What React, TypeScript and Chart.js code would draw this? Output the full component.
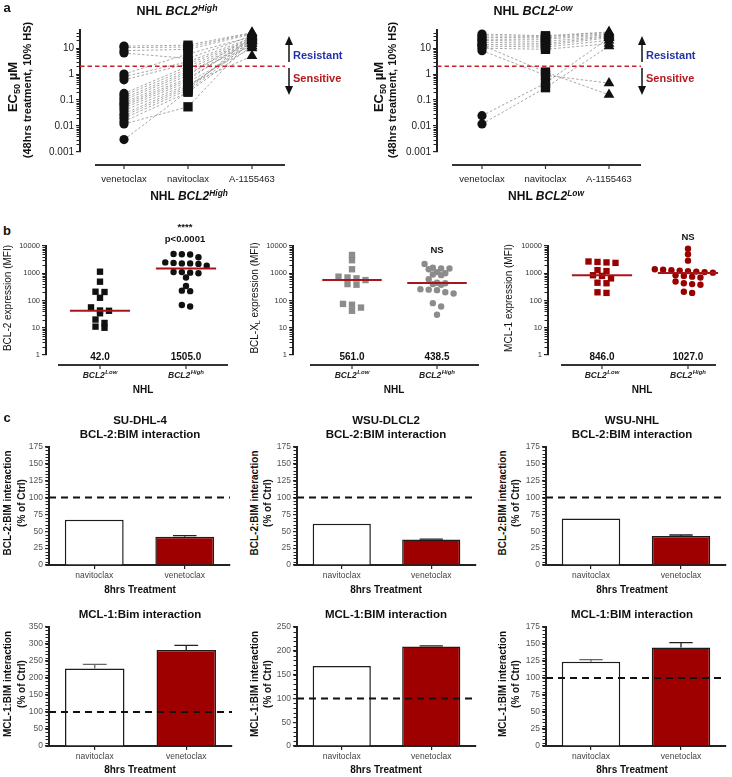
import React, { useEffect, useRef } from 'react';
import { Chart, registerables } from 'chart.js';

Chart.register(...registerables);

const FONT = '"Liberation Sans", Arial, Helvetica, sans-serif';
Chart.defaults.font.family = FONT;

// ---------------- Panel a : EC50 (µM), 48 h treatment, 10% HS ----------------
const drugs = ['venetoclax', 'navitoclax', 'A-1155463'];
const ec50Ticks = [0.001, 0.01, 0.1, 1, 10];
const ec50Range = [0.001, 50];
const ec50Threshold = 2;

const highVenetoclax = [12, 10.5, 8, 6.5, 1.0, 0.8, 0.6, 0.18, 0.15, 0.12, 0.1, 0.08, 0.07, 0.06, 0.05, 0.04, 0.03, 0.025, 0.02, 0.015, 0.012, 0.003];
const highNavitoclax = [13, 11, 9, 4, 6, 3, 2.5, 2, 1.6, 1.3, 1.1, 0.9, 0.7, 0.6, 0.5, 0.4, 0.35, 0.3, 0.25, 0.2, 0.055, 0.22];
const highA1155463 = [40, 38, 35, 30, 28, 25, 22, 20, 18, 15, 12, 30, 20, 25, 10, 5, 15, 20, 28, 12, 22, 18];

const lowVenetoclax = [35, 30, 26, 22, 20, 17, 14, 12, 10, 8, 13, 0.025, 0.012];
const lowNavitoclax = [30, 28, 25, 22, 18, 15, 13, 11, 9, 0.9, 1.2, 0.45, 0.3];
const lowA1155463 = [42, 40, 36, 33, 30, 28, 25, 20, 15, 0.45, 0.16, 25, 12];

// ---------------- Panel b : expression (MFI) ----------------
const nhlTickText = ['BCL2', 'BCL2'];
const nhlTickSup = ['Low', 'High'];
const mfiTicks = [1, 10, 100, 1000, 10000];
const mfiRange = [1, 10000];

const bcl2Low = [1140, 490, 210, 205, 126, 56, 43, 42, 34, 20, 15, 11, 10];
const bcl2High = [5100, 5000, 4900, 3850, 2500, 2400, 2300, 2300, 2200, 1900, 1110, 1100, 1050, 1000, 700, 340, 230, 220, 68, 60];
const bcl2Medians = [42.0, 1505.0];

const bclxlLow = [4700, 3000, 1400, 750, 700, 650, 561, 400, 380, 75, 70, 55, 42];
const bclxlHigh = [2200, 1600, 1500, 1500, 1400, 1100, 1000, 900, 850, 600, 450, 427, 400, 380, 260, 250, 240, 200, 180, 80, 60, 30];
const bclxlMedians = [561.0, 438.5];

const mcl1Low = [2700, 2600, 2500, 2400, 1300, 1200, 846, 800, 650, 450, 430, 200, 190];
const mcl1High = [8000, 5000, 2900, 1400, 1350, 1300, 1250, 1200, 1150, 1100, 1054, 1000, 850, 800, 750, 700, 500, 430, 400, 380, 210, 190];
const mcl1Medians = [846.0, 1027.0];

// ---------------- Panel c : BIM interaction (% of Ctrl), 8 h ----------------
const treatments = ['navitoclax', 'venetoclax'];
const controlLevel = 100;
const bcl2BimSUDHL4 = [67, 42];
const bcl2BimSUDHL4Err = [0, 1.5];
const bcl2BimWSUDLCL2 = [61, 38];
const bcl2BimWSUDLCL2Err = [0, 0.5];
const bcl2BimWSUNHL = [69, 43];
const bcl2BimWSUNHLErr = [0, 1.5];
const mcl1BimSUDHL4 = [228, 282];
const mcl1BimSUDHL4Err = [12, 14];
const mcl1BimWSUDLCL2 = [168, 209];
const mcl1BimWSUDLCL2Err = [0, 1.5];
const mcl1BimWSUNHL = [124, 145];
const mcl1BimWSUNHLErr = [3, 7];
const bimAxisMax = [175, 175, 175, 350, 250, 175];
const bimAxisStep = [25, 25, 25, 50, 50, 25];

// ---------------- Layout (pixels) ----------------
type Rect = { x: number; y: number; w: number; h: number };
type Area = { l: number; t: number; r: number; b: number };

const aLayout = [
  { rect: { x: 40, y: 15, w: 255, h: 180 }, area: { l: 80, t: 30, r: 285, b: 152 }, p0: 124, p1: 188, axisStart: 95 },
  { rect: { x: 400, y: 15, w: 250, h: 180 }, area: { l: 437, t: 30, r: 641, b: 152 }, p0: 482, p1: 545.5, axisStart: 452 },
];
const bLayout = [
  { rect: { x: 12, y: 225, w: 225, h: 170 }, area: { l: 46, t: 246, r: 228, b: 355 }, p0: 100, p1: 186, axisStart: 58 },
  { rect: { x: 259, y: 225, w: 228, h: 170 }, area: { l: 293, t: 246, r: 479, b: 355 }, p0: 352, p1: 437, axisStart: 310 },
  { rect: { x: 514, y: 225, w: 212, h: 170 }, area: { l: 548, t: 246, r: 716, b: 355 }, p0: 602, p1: 688, axisStart: 561 },
];
const cLayout = [
  { rect: { x: 15, y: 437, w: 222, h: 155 }, area: { l: 49, t: 447, r: 230, b: 565 } },
  { rect: { x: 262, y: 437, w: 222, h: 155 }, area: { l: 297, t: 447, r: 476, b: 565 } },
  { rect: { x: 511, y: 437, w: 221, h: 155 }, area: { l: 546, t: 447, r: 726, b: 565 } },
  { rect: { x: 15, y: 617, w: 225, h: 155 }, area: { l: 49, t: 627, r: 232, b: 746 } },
  { rect: { x: 262, y: 617, w: 222, h: 155 }, area: { l: 297, t: 627, r: 476, b: 746 } },
  { rect: { x: 511, y: 617, w: 221, h: 155 }, area: { l: 546, t: 627, r: 726, b: 746 } },
];

// ---------------- Helpers ----------------
// Scatter-dot layout: points close in value share a row and are centred on the category.
function dotRows(values: number[], pxPerDecade: number, pxPerUnit: number, d: number): number[] {
  const order = values.map((_, i) => i).sort((a, b) => values[b] - values[a]);
  const out = new Array(values.length).fill(0);
  let row: number[] = [];
  let rowY: number | null = null;
  const flush = () => {
    row.forEach((idx, j) => {
      out[idx] = ((j - (row.length - 1) / 2) * d) / pxPerUnit;
    });
    row = [];
  };
  for (const i of order) {
    const yy = Math.log10(values[i]) * pxPerDecade;
    if (rowY === null || rowY - yy > 0.55 * d) {
      flush();
      rowY = yy;
    }
    row.push(i);
  }
  flush();
  return out;
}

function drawLabel(ctx: CanvasRenderingContext2D, text: string, sup: string | undefined, cx: number, cy: number, font: string, supFont: string) {
  ctx.textBaseline = 'middle';
  ctx.font = font;
  const wb = ctx.measureText(text).width;
  let ws = 0;
  if (sup) {
    ctx.font = supFont;
    ws = ctx.measureText(sup).width + 0.5;
  }
  const sx = cx - (wb + ws) / 2;
  ctx.textAlign = 'left';
  ctx.font = font;
  ctx.fillText(text, sx, cy);
  if (sup) {
    ctx.font = supFont;
    ctx.fillText(sup, sx + wb + 0.5, cy - 3.5);
  }
}

const decorPlugin = {
  id: 'decor',
  afterDatasetsDraw(chart: any, _a: any, o: any) {
    const { ctx, chartArea: ca } = chart;
    const y = chart.scales.y;
    ctx.save();
    if (o.errors) {
      const meta = chart.getDatasetMeta(0);
      meta.data.forEach((bar: any, i: number) => {
        const v = o.errors.values[i];
        const e = o.errors.errors[i];
        if (!e) return;
        const yt = y.getPixelForValue(v + e);
        const yb = y.getPixelForValue(v);
        const hw = bar.width * 0.2;
        ctx.strokeStyle = i === 0 ? '#666' : '#222';
        ctx.lineWidth = 1.3;
        ctx.beginPath();
        ctx.moveTo(bar.x, yb);
        ctx.lineTo(bar.x, yt);
        ctx.moveTo(bar.x - hw, yt);
        ctx.lineTo(bar.x + hw, yt);
        ctx.stroke();
      });
    }
    if (o.reference != null) {
      const yr = y.getPixelForValue(o.reference);
      ctx.strokeStyle = '#111';
      ctx.lineWidth = 2;
      ctx.setLineDash([7, 5]);
      ctx.beginPath();
      ctx.moveTo(ca.left, yr);
      ctx.lineTo(ca.right, yr);
      ctx.stroke();
      ctx.setLineDash([]);
    }
    ctx.restore();
  },
  afterDraw(chart: any, _a: any, o: any) {
    const { ctx, chartArea: ca } = chart;
    const x = chart.scales.x;
    const y = chart.scales.y;
    ctx.save();
    const minor: number[] = [];
    if (o.logMinor) {
      for (let d = Math.floor(Math.log10(y.min)); d < Math.ceil(Math.log10(y.max)); d++) {
        for (let m = 2; m <= 9; m++) {
          const v = m * Math.pow(10, d);
          if (v > y.min && v < y.max) minor.push(v);
        }
      }
    }
    if (o.linMinor) {
      for (let v = y.min; v <= y.max + 1e-9; v += o.linMinor) minor.push(v);
    }
    ctx.strokeStyle = '#222';
    ctx.lineWidth = 1;
    ctx.beginPath();
    minor.forEach((v) => {
      const py = Math.round(y.getPixelForValue(v)) + 0.5;
      ctx.moveTo(ca.left - 3.5, py);
      ctx.lineTo(ca.left, py);
    });
    ctx.stroke();

    if (o.axis) {
      const A = o.axis;
      const ly = ca.bottom + A.gap;
      const x0 = x.getPixelForValue(A.start);
      ctx.strokeStyle = '#333';
      ctx.lineWidth = 2;
      ctx.beginPath();
      ctx.moveTo(x0, ly);
      ctx.lineTo(ca.right, ly);
      ctx.stroke();
      ctx.fillStyle = A.color;
      A.text.forEach((t: string, i: number) => {
        const px = x.getPixelForValue(i);
        ctx.lineWidth = 1.2;
        ctx.beginPath();
        ctx.moveTo(px, ly);
        ctx.lineTo(px, ly + 4);
        ctx.stroke();
        drawLabel(ctx, t, A.sup ? A.sup[i] : undefined, px, ly + A.labelGap, A.font, A.supFont || A.font);
      });
    }
    if (o.medians) {
      ctx.font = `bold 10px ${FONT}`;
      ctx.fillStyle = '#111';
      ctx.textAlign = 'center';
      ctx.textBaseline = 'middle';
      o.medians.forEach((m: number, i: number) => {
        ctx.fillText(m.toFixed(1), x.getPixelForValue(i), ca.bottom + 2.5);
      });
    }
    ctx.restore();
  },
};

function baseOptions(rect: Rect, area: Area, xh: number) {
  return {
    responsive: false,
    animation: false,
    events: [],
    layout: {
      autoPadding: false,
      padding: { left: 0, top: area.t - rect.y, right: rect.x + rect.w - area.r, bottom: rect.y + rect.h - area.b - xh },
    },
  };
}

function logY(rect: Rect, area: Area, range: number[], ticks: number[], size: number, color: string) {
  const yw = area.l - rect.x;
  return {
    type: 'logarithmic',
    min: range[0],
    max: range[1],
    afterFit: (s: any) => {
      s.width = yw;
    },
    afterBuildTicks: (s: any) => {
      s.ticks = ticks.map((v) => ({ value: v }));
    },
    ticks: { callback: (v: any) => String(v), font: { size, family: FONT }, color, padding: 2, autoSkip: false },
    grid: { drawOnChartArea: false, drawTicks: true, tickLength: 4, color: '#222', lineWidth: 1.2 },
    border: { display: true, color: '#222', width: 2 },
  };
}

function catX(area: Area, p0: number, p1: number) {
  const unit = p1 - p0;
  return { type: 'linear', display: false, min: -(p0 - area.l) / unit, max: (area.r - p0) / unit };
}

function ec50Config(L: any, v: number[], n: number[], a: number[]) {
  const unit = L.p1 - L.p0;
  const xs = catX(L.area, L.p0, L.p1);
  const connectors = v.map((_, i) => ({
    data: [{ x: 0, y: v[i] }, { x: 1, y: n[i] }, { x: 2, y: a[i] }],
    showLine: true,
    borderColor: '#8f8f8f',
    borderWidth: 0.8,
    borderDash: [2.5, 2],
    pointRadius: 0,
    order: 3,
    clip: false,
  }));
  const markers = [v, n, a].map((vals, k) => ({
    data: vals.map((y) => ({ x: k, y })),
    pointStyle: ['circle', 'rect', 'triangle'][k],
    pointRadius: [4.6, 6.6, 6.2][k],
    backgroundColor: '#111',
    borderColor: '#111',
    borderWidth: 0,
    order: 0,
    clip: false,
  }));
  const threshold = {
    data: [{ x: xs.min, y: ec50Threshold }, { x: xs.max, y: ec50Threshold }],
    showLine: true,
    borderColor: '#c8232c',
    borderWidth: 1.6,
    borderDash: [4.5, 3],
    pointRadius: 0,
    order: 1,
    clip: false,
  };
  return {
    type: 'scatter',
    data: { datasets: [...markers, threshold, ...connectors] },
    options: {
      ...baseOptions(L.rect, L.area, 0),
      scales: { x: xs, y: logY(L.rect, L.area, ec50Range, ec50Ticks, 10, '#222') },
      plugins: {
        legend: { display: false },
        tooltip: { enabled: false },
        decor: {
          logMinor: true,
          axis: { start: (L.axisStart - L.p0) / unit, gap: 13, labelGap: 14, text: drugs, font: `9.5px ${FONT}`, color: '#222' },
        },
      },
    },
    plugins: [decorPlugin],
  };
}

function mfiConfig(L: any, low: number[], high: number[], medians: number[], color: string) {
  const unit = L.p1 - L.p0;
  const xs = catX(L.area, L.p0, L.p1);
  const ppd = (L.area.b - L.area.t) / Math.log10(mfiRange[1] / mfiRange[0]);
  const jit = [dotRows(low, ppd, unit, 9), dotRows(high, ppd, unit, 8.3)];
  const groups = [low, high].map((vals, k) => ({
    data: vals.map((y, i) => ({ x: k + jit[k][i], y })),
    pointStyle: k ? 'circle' : 'rect',
    pointRadius: k ? 3.2 : 4.5,
    backgroundColor: color,
    borderColor: color,
    borderWidth: 0,
    order: 1,
    clip: false,
  }));
  const medLines = medians.map((m, k) => ({
    data: [{ x: k - 0.35, y: m }, { x: k + 0.35, y: m }],
    showLine: true,
    borderColor: '#a8141b',
    borderWidth: 2,
    pointRadius: 0,
    order: 0,
    clip: false,
  }));
  return {
    type: 'scatter',
    data: { datasets: [...medLines, ...groups] },
    options: {
      ...baseOptions(L.rect, L.area, 0),
      scales: { x: xs, y: logY(L.rect, L.area, mfiRange, mfiTicks, 7.5, '#333') },
      plugins: {
        legend: { display: false },
        tooltip: { enabled: false },
        decor: {
          logMinor: true,
          medians,
          axis: {
            start: (L.axisStart - L.p0) / unit,
            gap: 10,
            labelGap: 11,
            text: nhlTickText,
            sup: nhlTickSup,
            font: `italic bold 8.5px ${FONT}`,
            supFont: `italic bold 6px ${FONT}`,
            color: '#222',
          },
        },
      },
    },
    plugins: [decorPlugin],
  };
}

function bimConfig(L: any, values: number[], errors: number[], max: number, step: number) {
  const xh = 14;
  const yw = L.area.l - L.rect.x;
  return {
    type: 'bar',
    data: {
      labels: treatments,
      datasets: [
        {
          data: values,
          backgroundColor: ['#ffffff', '#9e0000'],
          borderColor: '#1c1c1c',
          borderWidth: 1.5,
          categoryPercentage: 1,
          barPercentage: 0.65,
        },
      ],
    },
    options: {
      ...baseOptions(L.rect, L.area, xh),
      scales: {
        x: {
          afterFit: (s: any) => {
            s.height = xh;
          },
          ticks: { font: { size: 8.5, family: FONT }, color: '#444', padding: 2 },
          grid: { drawOnChartArea: false, offset: false, tickLength: 4, color: '#222', lineWidth: 1.2 },
          border: { color: '#222', width: 2 },
        },
        y: {
          min: 0,
          max,
          afterFit: (s: any) => {
            s.width = yw;
          },
          ticks: { stepSize: step, font: { size: 8.5, family: FONT }, color: '#555', padding: 2 },
          grid: { drawOnChartArea: false, tickLength: 4, color: '#222', lineWidth: 1.2 },
          border: { color: '#222', width: 2 },
        },
      },
      plugins: {
        legend: { display: false },
        tooltip: { enabled: false },
        decor: { linMinor: step / 5, reference: controlLevel, errors: { values, errors } },
      },
    },
    plugins: [decorPlugin],
  };
}

function ChartBox({ rect, make }: { rect: Rect; make: () => any }) {
  const ref = useRef<HTMLCanvasElement>(null);
  useEffect(() => {
    const chart = new Chart(ref.current as HTMLCanvasElement, make());
    return () => chart.destroy();
  }, []);
  return (
    <canvas
      ref={ref}
      width={rect.w}
      height={rect.h}
      style={{ position: 'absolute', left: rect.x, top: rect.y, width: rect.w, height: rect.h }}
    />
  );
}

function Txt({ x, y, size = 11, bold = true, italic = false, color = '#111', rot = false, left = false, children }: any) {
  const tf = left ? 'translate(0,-50%)' : `translate(-50%,-50%)${rot ? ' rotate(-90deg)' : ''}`;
  return (
    <div
      style={{
        position: 'absolute',
        left: x,
        top: y,
        transform: tf,
        fontSize: size,
        fontWeight: bold ? 700 : 400,
        fontStyle: italic ? 'italic' : 'normal',
        color,
        whiteSpace: 'nowrap',
        lineHeight: 1.15,
        fontFamily: FONT,
      }}
    >
      {children}
    </div>
  );
}

const Sup = ({ children }: any) => <span style={{ fontSize: '0.7em', position: 'relative', top: '-0.5em' }}>{children}</span>;
const Sub = ({ children }: any) => <span style={{ fontSize: '0.7em', position: 'relative', top: '0.3em' }}>{children}</span>;

function Arrows({ x }: { x: number }) {
  return (
    <g stroke="#111" fill="#111" strokeWidth={1.5}>
      <line x1={x} y1={62} x2={x} y2={43} />
      <polygon points={`${x},36 ${x - 4},45 ${x + 4},45`} stroke="none" />
      <line x1={x} y1={68} x2={x} y2={88} />
      <polygon points={`${x},95 ${x - 4},86 ${x + 4},86`} stroke="none" />
    </g>
  );
}

const BCL2 = ({ sup }: { sup: string }) => (
  <span style={{ fontStyle: 'italic' }}>
    BCL2<Sup>{sup}</Sup>
  </span>
);

export default function App() {
  const cTopTitles = [
    ['SU-DHL-4', 140],
    ['WSU-DLCL2', 386],
    ['WSU-NHL', 632],
  ];
  const cBotTitles = [
    ['MCL-1:Bim interaction', 140],
    ['MCL-1:BIM interaction', 386],
    ['MCL-1:BIM interaction', 632],
  ];
  const cYX = [
    [8, 22],
    [255, 268],
    [503, 516],
  ];
  const bimSeries = [
    [bcl2BimSUDHL4, bcl2BimSUDHL4Err],
    [bcl2BimWSUDLCL2, bcl2BimWSUDLCL2Err],
    [bcl2BimWSUNHL, bcl2BimWSUNHLErr],
    [mcl1BimSUDHL4, mcl1BimSUDHL4Err],
    [mcl1BimWSUDLCL2, mcl1BimWSUDLCL2Err],
    [mcl1BimWSUNHL, mcl1BimWSUNHLErr],
  ];
  return (
    <div
      style={{
        position: 'absolute',
        left: 0,
        top: 0,
        width: 732,
        height: 777,
        background: '#fff',
        overflow: 'hidden',
        fontFamily: FONT,
        color: '#111',
      }}
    >
      {/* Panel a */}
      <ChartBox rect={aLayout[0].rect} make={() => ec50Config(aLayout[0], highVenetoclax, highNavitoclax, highA1155463)} />
      <ChartBox rect={aLayout[1].rect} make={() => ec50Config(aLayout[1], lowVenetoclax, lowNavitoclax, lowA1155463)} />

      {/* Panel b */}
      <ChartBox rect={bLayout[0].rect} make={() => mfiConfig(bLayout[0], bcl2Low, bcl2High, bcl2Medians, '#111111')} />
      <ChartBox rect={bLayout[1].rect} make={() => mfiConfig(bLayout[1], bclxlLow, bclxlHigh, bclxlMedians, '#8c8c8c')} />
      <ChartBox rect={bLayout[2].rect} make={() => mfiConfig(bLayout[2], mcl1Low, mcl1High, mcl1Medians, '#990000')} />

      {/* Panel c */}
      {cLayout.map((L, i) => (
        <ChartBox
          key={i}
          rect={L.rect}
          make={() => bimConfig(L, bimSeries[i][0], bimSeries[i][1], bimAxisMax[i], bimAxisStep[i])}
        />
      ))}

      <svg width={732} height={210} style={{ position: 'absolute', left: 0, top: 0 }}>
        <Arrows x={289} />
        <Arrows x={642} />
      </svg>

      {/* ---- text of panel a ---- */}
      <Txt x={7} y={8} size={13}>a</Txt>
      <Txt x={177} y={11} size={12.5}>
        NHL <BCL2 sup="High" />
      </Txt>
      <Txt x={533} y={11} size={12.5}>
        NHL <BCL2 sup="Low" />
      </Txt>
      <Txt x={189} y={197} size={12}>
        NHL <BCL2 sup="High" />
      </Txt>
      <Txt x={546} y={197} size={12}>
        NHL <BCL2 sup="Low" />
      </Txt>
      <Txt x={13} y={87} size={13} rot>
        EC<Sub>50</Sub> µM
      </Txt>
      <Txt x={27} y={90} size={11} rot>
        (48hrs treatment, 10% HS)
      </Txt>
      <Txt x={379} y={87} size={13} rot>
        EC<Sub>50</Sub> µM
      </Txt>
      <Txt x={392} y={90} size={11} rot>
        (48hrs treatment, 10% HS)
      </Txt>
      <Txt x={293} y={55} size={11} left color="#2233aa">Resistant</Txt>
      <Txt x={293} y={78} size={11} left color="#b3191f">Sensitive</Txt>
      <Txt x={646} y={55} size={11} left color="#2233aa">Resistant</Txt>
      <Txt x={646} y={78} size={11} left color="#b3191f">Sensitive</Txt>

      {/* ---- text of panel b ---- */}
      <Txt x={7} y={231} size={13}>b</Txt>
      <Txt x={8} y={298} size={10} bold={false} rot>BCL-2 expression (MFI)</Txt>
      <Txt x={255} y={298} size={10} bold={false} rot>
        BCL-X<Sub>L</Sub> expression (MFI)
      </Txt>
      <Txt x={509} y={298} size={10} bold={false} rot>MCL-1 expression (MFI)</Txt>
      <Txt x={185} y={227} size={9.5}>****</Txt>
      <Txt x={185} y={239} size={9.5}>p&lt;0.0001</Txt>
      <Txt x={437} y={250} size={9.5}>NS</Txt>
      <Txt x={688} y={237} size={9.5}>NS</Txt>
      <Txt x={143} y={390} size={10}>NHL</Txt>
      <Txt x={394} y={390} size={10}>NHL</Txt>
      <Txt x={642} y={390} size={10}>NHL</Txt>

      {/* ---- text of panel c ---- */}
      <Txt x={7} y={418} size={13}>c</Txt>
      {cTopTitles.map(([t, x], i) => (
        <React.Fragment key={'ct' + i}>
          <Txt x={x} y={421} size={11.5}>{t}</Txt>
          <Txt x={x} y={435} size={11.5}>BCL-2:BIM interaction</Txt>
          <Txt x={x} y={590} size={10}>8hrs Treatment</Txt>
          <Txt x={cYX[i][0]} y={503} size={10} rot>BCL-2:BIM interaction</Txt>
          <Txt x={cYX[i][1]} y={503} size={10} rot>(% of Ctrl)</Txt>
        </React.Fragment>
      ))}
      {cBotTitles.map(([t, x], i) => (
        <React.Fragment key={'cb' + i}>
          <Txt x={x} y={615} size={11.5}>{t}</Txt>
          <Txt x={x} y={770} size={10}>8hrs Treatment</Txt>
          <Txt x={cYX[i][0]} y={684} size={10} rot>MCL-1:BIM interaction</Txt>
          <Txt x={cYX[i][1]} y={684} size={10} rot>(% of Ctrl)</Txt>
        </React.Fragment>
      ))}
    </div>
  );
}
